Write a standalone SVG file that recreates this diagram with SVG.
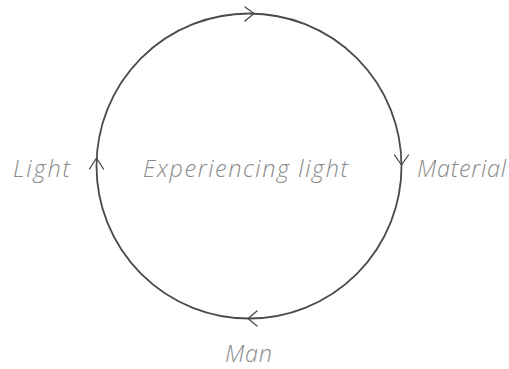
<svg xmlns="http://www.w3.org/2000/svg" width="509" height="369" viewBox="0 0 509 369">
<style>
.t{font-family:"Open Sans","Noto Sans",sans-serif;font-style:italic;font-weight:300;font-size:23.5px;fill:#8a8a8a}
.c{fill:none;stroke:#4a4a4a;stroke-width:1.8}
.a{fill:none;stroke:#4a4a4a;stroke-width:1.3;stroke-linecap:round;stroke-linejoin:round}
</style>
<rect width="509" height="369" fill="#fff"/>
<g id="connectors">
<circle class="c" cx="249" cy="166" r="152.5"/>
<polyline class="a" points="245,7 254,13.5 245,21"/>
<polyline class="a" points="394.5,155 401.5,165 408.5,155"/>
<polyline class="a" points="257,311 248,318.5 257,326"/>
<polyline class="a" points="89.5,169 96.5,158 103.5,169"/>
</g>
<g id="center"><text class="t" x="143" y="177" textLength="205" lengthAdjust="spacing">Experiencing light</text></g>
<g id="light"><text class="t" x="13" y="177" textLength="57" lengthAdjust="spacing">Light</text></g>
<g id="material"><text class="t" x="417" y="177" textLength="89" lengthAdjust="spacing">Material</text></g>
<g id="man"><text class="t" x="225" y="362" textLength="47" lengthAdjust="spacing">Man</text></g>
</svg>
